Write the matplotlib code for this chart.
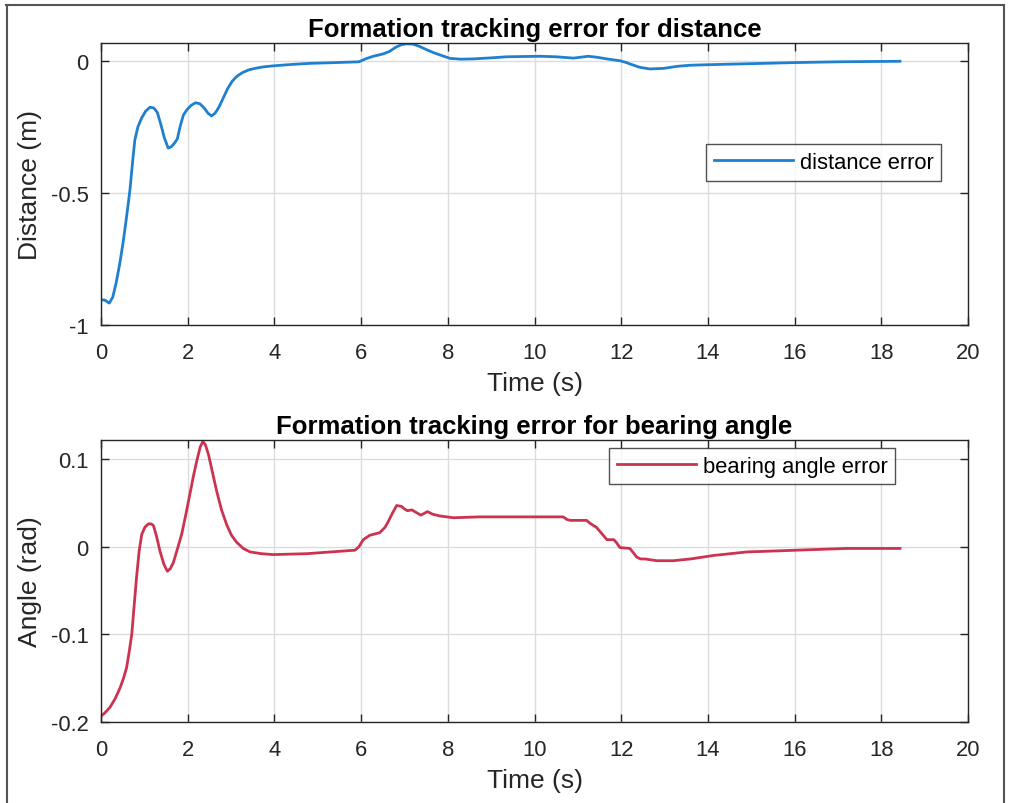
import matplotlib

matplotlib.use("Agg")
import matplotlib.pyplot as plt
from matplotlib.lines import Line2D

plt.rcParams["font.family"] = ["Liberation Sans", "DejaVu Sans"]

# distance error (m) vs time (s)
t_dist = [0.0, 0.08, 0.19, 0.27, 0.35, 0.43, 0.51, 0.59, 0.67, 0.73, 0.78,
          0.85, 0.94, 1.03, 1.13, 1.22, 1.30, 1.38, 1.46, 1.55, 1.62, 1.70,
          1.76, 1.83, 1.90, 1.98, 2.08, 2.18, 2.28, 2.38, 2.47, 2.55, 2.63,
          2.72, 2.82, 2.92, 3.02, 3.12, 3.25, 3.40, 3.55, 3.75, 4.0, 4.4,
          4.8, 5.4, 5.95, 6.1, 6.28, 6.51, 6.65, 6.80, 6.93, 7.05, 7.2, 7.35,
          7.51, 7.65, 7.82, 8.05, 8.3, 8.59, 9.0, 9.36, 10.13, 10.5, 10.9,
          11.24, 11.45, 11.67, 11.97, 12.1, 12.2, 12.43, 12.66, 12.97, 13.3,
          13.59, 14.0, 15.0, 16.0, 17.0, 18.43]
dist_err = [-0.905, -0.905, -0.917, -0.895, -0.84, -0.77, -0.687, -0.59,
            -0.485, -0.38, -0.3, -0.25, -0.215, -0.19, -0.175, -0.178,
            -0.195, -0.24, -0.29, -0.33, -0.325, -0.31, -0.295, -0.245,
            -0.205, -0.185, -0.168, -0.158, -0.162, -0.178, -0.198, -0.208,
            -0.198, -0.175, -0.14, -0.105, -0.078, -0.06, -0.045, -0.034,
            -0.028, -0.022, -0.018, -0.013, -0.009, -0.006, -0.003, 0.008,
            0.018, 0.027, 0.036, 0.052, 0.062, 0.065, 0.064, 0.055, 0.043,
            0.033, 0.023, 0.01, 0.007, 0.008, 0.012, 0.016, 0.018, 0.016,
            0.011, 0.018, 0.014, 0.008, 0.001, -0.005, -0.011, -0.024, -0.03,
            -0.028, -0.02, -0.016, -0.014, -0.01, -0.006, -0.003, -0.001]

# bearing angle error (rad) vs time (s)
t_ang = [0.0, 0.08, 0.21, 0.33, 0.44, 0.52, 0.59, 0.65, 0.71, 0.76, 0.82,
         0.88, 0.94, 1.01, 1.09, 1.16, 1.21, 1.28, 1.36, 1.45, 1.53, 1.60,
         1.67, 1.76, 1.86, 1.95, 2.05, 2.13, 2.21, 2.29, 2.35, 2.41, 2.48,
         2.57, 2.67, 2.78, 2.9, 3.01, 3.13, 3.28, 3.44, 3.7, 3.97, 4.74, 5.3,
         5.86, 5.95, 6.05, 6.2, 6.43, 6.55, 6.63, 6.72, 6.82, 6.93, 7.0,
         7.07, 7.17, 7.27, 7.38, 7.53, 7.65, 7.82, 8.13, 8.74, 10.66, 10.75,
         10.82, 11.2, 11.3, 11.43, 11.55, 11.67, 11.83, 11.9, 11.97, 12.2,
         12.28, 12.36, 12.45, 12.55, 12.82, 13.2, 13.6, 14.13, 14.9, 16.05,
         17.2, 18.43]
ang_err = [-0.193, -0.19, -0.183, -0.173, -0.161, -0.15, -0.138, -0.12, -0.1,
           -0.07, -0.035, -0.005, 0.014, 0.022, 0.026, 0.026, 0.024, 0.012,
           -0.005, -0.02, -0.028, -0.025, -0.018, -0.003, 0.014, 0.035, 0.06,
           0.08, 0.098, 0.114, 0.12, 0.116, 0.105, 0.085, 0.063, 0.042, 0.025,
           0.013, 0.005, -0.002, -0.006, -0.008, -0.009, -0.008, -0.006,
           -0.004, 0.0, 0.008, 0.013, 0.016, 0.022, 0.029, 0.038, 0.047,
           0.046, 0.043, 0.041, 0.042, 0.039, 0.036, 0.04, 0.037, 0.035,
           0.033, 0.034, 0.034, 0.031, 0.03, 0.03, 0.026, 0.022, 0.015, 0.008,
           0.008, 0.004, -0.001, -0.002, -0.007, -0.012, -0.014, -0.014,
           -0.016, -0.016, -0.014, -0.01, -0.006, -0.004, -0.002, -0.002]

x_ticks = list(range(0, 21, 2))
dist_ticks = [-1, -0.5, 0]
dist_tick_labels = ["-1", "-0.5", "0"]
ang_ticks = [-0.2, -0.1, 0, 0.1]
ang_tick_labels = ["-0.2", "-0.1", "0", "0.1"]

BLUE = "#1f80d0"
RED = "#cc3350"
FRAME = "#262626"
TICK_FS = 15.8
LABEL_FS = 19
TITLE_FS = 18.5


def style_axes(ax):
    for sp in ax.spines.values():
        sp.set_color(FRAME)
        sp.set_linewidth(1.0)
    ax.tick_params(direction="in", top=True, right=True, length=6,
                   width=1.0, color=FRAME, labelsize=TICK_FS,
                   labelcolor="#262626")
    ax.tick_params(axis="x", pad=12)
    ax.tick_params(axis="y", pad=9)
    ax.grid(True, color="#dcdcdc", linewidth=1.0)
    ax.set_axisbelow(True)
    ax.set_xlim(0, 20)
    ax.set_xticks(x_ticks)
    ax.set_xlabel("Time (s)", fontsize=LABEL_FS, color="#262626", labelpad=6)


fig = plt.figure(figsize=(10.09, 8.04), dpi=100)

ax1 = fig.add_axes([0.1001, 0.5945, 0.8593, 0.3507])
ax1.plot(t_dist, dist_err, color=BLUE, lw=2.0, label="distance error",
         solid_joinstyle="round")
style_axes(ax1)
ax1.set_ylim(-1, 0.068)
ax1.set_yticks(dist_ticks)
ax1.set_yticklabels(dist_tick_labels)
ax1.set_ylabel("Distance (m)", fontsize=LABEL_FS, color="#262626", labelpad=6)
ax1.set_title("Formation tracking error for distance", fontsize=TITLE_FS,
              fontweight="bold", pad=5)
leg1 = ax1.legend(loc="upper right", bbox_to_anchor=(0.9690, 0.641),
                  fontsize=TICK_FS, fancybox=False, edgecolor=FRAME,
                  handlelength=3.6, borderpad=0.35, handletextpad=0.3,
                  borderaxespad=0)
leg1.get_frame().set_linewidth(1.0)

ax2 = fig.add_axes([0.1001, 0.1007, 0.8593, 0.3507])
ax2.plot(t_ang, ang_err, color=RED, lw=2.0, label="bearing angle error",
         solid_joinstyle="round")
style_axes(ax2)
ax2.set_ylim(-0.2, 0.1216)
ax2.set_yticks(ang_ticks)
ax2.set_yticklabels(ang_tick_labels)
ax2.set_ylabel("Angle (rad)", fontsize=LABEL_FS, color="#262626", labelpad=6)
ax2.set_title("Formation tracking error for bearing angle", fontsize=TITLE_FS,
              fontweight="bold", pad=5)
leg2 = ax2.legend(loc="upper right", bbox_to_anchor=(0.9157, 0.972),
                  fontsize=TICK_FS, fancybox=False, edgecolor=FRAME,
                  handlelength=3.6, borderpad=0.35, handletextpad=0.3,
                  borderaxespad=0)
leg2.get_frame().set_linewidth(1.0)

# thin frame around the figure, as in the screenshot
for xs, ys in [([0.006, 0.995], [0.992, 0.992]),
               ([0.0065, 0.0065], [0.0, 0.992]),
               ([0.995, 0.995], [0.0, 0.992])]:
    fig.add_artist(Line2D(xs, ys, transform=fig.transFigure,
                          color="#555555", lw=1.5))

fig.savefig("out.png", dpi=100)
